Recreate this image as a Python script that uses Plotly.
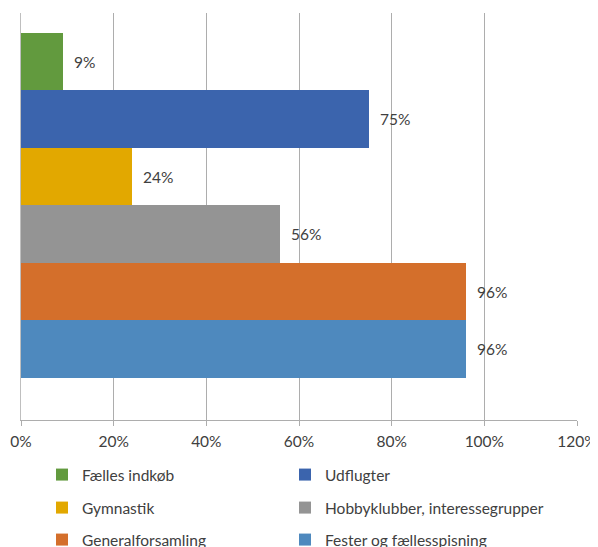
import plotly.graph_objects as go

series_names = ["Fælles indkøb", "Udflugter", "Gymnastik",
                "Hobbyklubber, interessegrupper", "Generalforsamling",
                "Fester og fællesspisning"]
series_values = [0.09, 0.75, 0.24, 0.56, 0.96, 0.96]
series_colors = ["#629A3E", "#3B64AD", "#E2A800", "#949494", "#D46F2B", "#4E89BE"]
category = ["Aktiviteter"]
x_ticks = [0, 0.2, 0.4, 0.6, 0.8, 1.0, 1.2]
x_tick_labels = ["0%", "20%", "40%", "60%", "80%", "100%", "120%"]

FONT = "Lato, 'Liberation Sans', sans-serif"
TXT = "#404040"
FS = 15.5
# the page body adds an 8px margin, so the figure is 8px smaller than the window
W, H = 590, 539

fig = go.Figure()
legend_ids = ["legend", "legend2", "legend3", "legend4", "legend5", "legend6"]
for i, (name, val, col) in enumerate(zip(series_names, series_values, series_colors)):
    fig.add_trace(go.Bar(
        y=category, x=[val], name=name, orientation="h",
        marker=dict(color=col, line=dict(width=0)),
        text=[f"\u00a0\u00a0{round(val*100)}%"], textposition="outside",
        textfont=dict(family=FONT, size=FS, color=TXT),
        cliponaxis=False, legend=legend_ids[i],
    ))

# legend positions in figure pixels
leg_px = [(34, 467), (277, 467), (34, 500), (277, 500), (34, 532), (277, 532)]
layout_leg = {}
for lid, (px, py) in zip(legend_ids, leg_px):
    layout_leg[lid] = dict(
        xref="container", yref="container", x=px / W, y=1 - py / H,
        xanchor="left", yanchor="middle", orientation="h",
        font=dict(family=FONT, size=FS, color=TXT), bgcolor="rgba(0,0,0,0)",
    )

fig.update_layout(
    width=W, height=H,
    margin=dict(l=13, r=21, t=5, b=127, autoexpand=False),
    paper_bgcolor="white", plot_bgcolor="white",
    barmode="group", bargap=0, bargroupgap=0,
    showlegend=True,
    **layout_leg,
)
fig.update_xaxes(
    range=[0, 1.2], tickvals=x_ticks, ticktext=x_tick_labels,
    showgrid=True, gridcolor="#ADADAD", gridwidth=1,
    showline=True, linecolor="#ADADAD", linewidth=1,
    ticks="outside", ticklen=5, tickcolor="#ADADAD",
    ticklabelstandoff=2,
    zeroline=False, automargin=False,
    tickfont=dict(family=FONT, size=FS, color=TXT),
)
fig.update_yaxes(
    range=[0.622, -0.558], showticklabels=False, showgrid=False,
    showline=True, linecolor="#BFBFBF", linewidth=1, zeroline=False, ticks="",
    automargin=False,
)

fig.write_html("out.html")
